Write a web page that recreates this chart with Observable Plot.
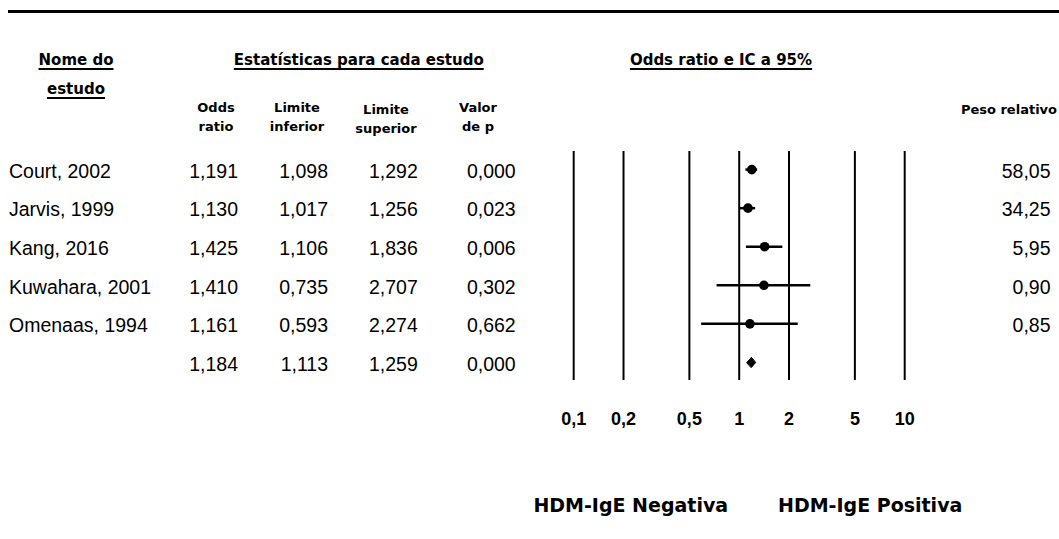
<!DOCTYPE html>
<html>
<head>
<meta charset="utf-8">
<script src="https://cdn.jsdelivr.net/npm/d3@7"></script>
<script src="https://cdn.jsdelivr.net/npm/@observablehq/plot@0.6"></script>
<style>
  html, body { margin: 0; padding: 0; background: #fff; }
  #wrap { position: relative; width: 1059px; height: 539px; overflow: hidden; }
  #wrap svg { position: absolute; left: 0; top: 0; }
  .lbl { position: absolute; white-space: nowrap; line-height: 1; font-family: "DejaVu Sans", sans-serif; font-weight: bold; color: #000; }
  .ul { text-decoration: underline; text-decoration-thickness: 2px; text-underline-offset: 2.5px; }
  #toprule { position: absolute; left: 8px; top: 9.5px; width: 1051px; height: 3px; background: #000; }
</style>
</head>
<body>
<div id="wrap"><div id="toprule"></div></div>
<script>
// ---- data ----
const studies   = ["Court, 2002", "Jarvis, 1999", "Kang, 2016", "Kuwahara, 2001", "Omenaas, 1994", ""];
const oddsRatio = [1.191, 1.130, 1.425, 1.410, 1.161, 1.184];
const lowerCI   = [1.098, 1.017, 1.106, 0.735, 0.593, 1.113];
const upperCI   = [1.292, 1.256, 1.836, 2.707, 2.274, 1.259];
const pValue    = [0.000, 0.023, 0.006, 0.302, 0.662, 0.000];
const weight    = [58.05, 34.25, 5.95, 0.90, 0.85, null];
const isSummary = [false, false, false, false, false, true];
const tickValues = [0.1, 0.2, 0.5, 1, 2, 5, 10];
const tickLabels = ["0,1", "0,2", "0,5", "1", "2", "5", "10"];

const fmt = (v, n) => v == null ? "" : v.toFixed(n).replace(".", ",");

const rows = studies.map((s, i) => ({
  i, study: s, or: oddsRatio[i], lo: lowerCI[i], hi: upperCI[i],
  p: pValue[i], w: weight[i], summary: isSummary[i]
}));
const studyRows = rows.filter(d => !d.summary);
const sumRow = rows.find(d => d.summary);
const dh = 0.13;
const diamond = [
  {x: sumRow.lo, y: sumRow.i},
  {x: sumRow.or, y: sumRow.i - dh},
  {x: sumRow.hi, y: sumRow.i},
  {x: sumRow.or, y: sumRow.i + dh}
];

const W = 1059, H = 539;
const mL = 573.2, mR = W - 904.2, mT = 151, mB = H - 380;
const numFont = "Liberation Sans, Arial, sans-serif";
const fs = 19.5;

const colText = (text, xRight, anchor = "end") => Plot.text(rows, {
  y: "i", text, frameAnchor: "left", dx: xRight - mL, dy: 2,
  textAnchor: anchor, fontSize: fs, fontFamily: numFont, fill: "black"
});

const chart = Plot.plot({
  width: W, height: H,
  marginLeft: mL, marginRight: mR, marginTop: mT, marginBottom: mB,
  x: {type: "log", domain: [0.1, 10], axis: null},
  y: {domain: [-0.47, rows.length - 1 + 0.47], reverse: true, axis: null},
  style: {fontFamily: numFont, background: "transparent", overflow: "visible"},
  marks: [
    Plot.ruleX(tickValues, {x: d => d, stroke: "black", strokeWidth: 2}),
    Plot.text(tickValues, {x: d => d, text: (d, k) => tickLabels[k], frameAnchor: "bottom", dy: 44.3,
      fontSize: 18, fontWeight: "bold", fontFamily: numFont, fill: "black"}),
    Plot.ruleY(studyRows, {y: "i", x1: "lo", x2: "hi", stroke: "black", strokeWidth: 2.5}),
    Plot.dot(studyRows, {x: "or", y: "i", r: 4.8, fill: "black", stroke: "none"}),
    Plot.line(diamond, {x: "x", y: "y", curve: "linear-closed", fill: "black", stroke: "black", strokeWidth: 1}),
    colText("study", 8.5, "start"),
    colText(d => fmt(d.or, 3), 237.5),
    colText(d => fmt(d.lo, 3), 327.5),
    colText(d => fmt(d.hi, 3), 417.3),
    colText(d => fmt(d.p, 3), 515.2),
    colText(d => fmt(d.w, 2), 1050)
  ]
});
const wrap = document.getElementById("wrap");
wrap.appendChild(chart);

// ---- header / footer labels ----
function label(text, x, baseline, size, align, cls) {
  const el = document.createElement("div");
  el.className = "lbl" + (cls ? " " + cls : "");
  el.textContent = text;
  el.style.fontSize = size + "px";
  el.style.top = (baseline - 0.846 * size) + "px";
  el.style.left = x + "px";
  if (align === "middle") el.style.transform = "translateX(-50%)";
  if (align === "end") el.style.transform = "translateX(-100%)";
  wrap.appendChild(el);
}
label("Nome do", 76, 65.5, 15, "middle", "ul");
label("estudo", 76, 94.5, 15, "middle", "ul");
label("Estatísticas para cada estudo", 358.8, 65.5, 15, "middle", "ul");
label("Odds ratio e IC a 95%", 721, 65.5, 15, "middle", "ul");
label("Odds", 216, 111.5, 13, "middle");
label("ratio", 216, 130.5, 13, "middle");
label("Limite", 297, 111.5, 13, "middle");
label("inferior", 297, 130.5, 13, "middle");
label("Limite", 386, 113.5, 13, "middle");
label("superior", 386, 132.5, 13, "middle");
label("Valor", 478, 111.5, 13, "middle");
label("de p", 478, 130.5, 13, "middle");
label("Peso relativo", 1057, 114, 13, "end");
label("HDM-IgE Negativa", 533.4, 512, 19, "start");
label("HDM-IgE Positiva", 778, 512, 19, "start");
</script>
</body>
</html>
